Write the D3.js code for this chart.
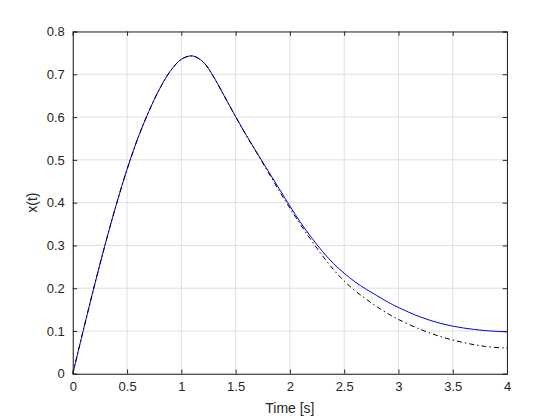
<!DOCTYPE html>
<html>
<head>
<meta charset="utf-8">
<script src="https://cdn.jsdelivr.net/npm/d3@7"></script>
<style>
  body { margin: 0; background: #fff; }
  svg { display: block; font-family: "Liberation Sans", Arial, sans-serif; }
</style>
</head>
<body>
<svg id="chart" width="560" height="420"></svg>
<script>
// values
const timeBlue = [0, 0.1, 0.2, 0.3, 0.4, 0.5, 0.6, 0.7, 0.8, 0.9, 1.0, 1.1, 1.2, 1.3, 1.4, 1.5,
  1.6, 1.7, 1.8, 1.9, 2.0, 2.1, 2.2, 2.3, 2.4, 2.5, 2.6, 2.7, 2.8, 2.9, 3.0, 3.2, 3.4, 3.6, 3.8, 4.0];
const xBlue = [0, 0.105, 0.207, 0.304, 0.395, 0.478, 0.551, 0.613, 0.666, 0.708, 0.735, 0.743, 0.729, 0.693, 0.647, 0.601,
  0.557, 0.515, 0.474, 0.433, 0.392, 0.353, 0.318, 0.286, 0.258, 0.235, 0.215, 0.198, 0.183, 0.168, 0.155, 0.133, 0.117, 0.107, 0.101, 0.098];

const timeBlack = [0, 0.1, 0.2, 0.3, 0.4, 0.5, 0.6, 0.7, 0.8, 0.9, 1.0, 1.1, 1.2, 1.3, 1.4, 1.5,
  1.6, 1.7, 1.8, 1.9, 2.0, 2.1, 2.2, 2.3, 2.4, 2.5, 2.6, 2.7, 2.8, 2.9, 3.0, 3.2, 3.4, 3.6, 3.8, 4.0];
const xBlack = [0, 0.105, 0.207, 0.304, 0.395, 0.478, 0.551, 0.613, 0.666, 0.708, 0.735, 0.743, 0.729, 0.693, 0.647, 0.601,
  0.556, 0.514, 0.471, 0.428, 0.387, 0.348, 0.311, 0.276, 0.244, 0.217, 0.194, 0.175, 0.157, 0.141, 0.127, 0.104, 0.086, 0.073, 0.064, 0.060];

const xTicks = [0, 0.5, 1, 1.5, 2, 2.5, 3, 3.5, 4];
const yTicks = [0, 0.1, 0.2, 0.3, 0.4, 0.5, 0.6, 0.7, 0.8];

// MATLAB default axes box
const margin = { top: 31.5, right: 53, bottom: 46.2, left: 72.8 };
const width = 560 - margin.left - margin.right;
const height = 420 - margin.top - margin.bottom;

const svg = d3.select("#chart")
  .append("g")
  .attr("transform", `translate(${margin.left},${margin.top})`);

const xScale = d3.scaleLinear().domain([0, 4]).range([0, width]);
const yScale = d3.scaleLinear().domain([0, 0.8]).range([height, 0]);

// grid
svg.append("g")
  .selectAll("line.gx")
  .data(xTicks)
  .enter().append("line")
  .attr("x1", d => xScale(d)).attr("x2", d => xScale(d))
  .attr("y1", 0).attr("y2", height)
  .attr("stroke", "#dfdfdf").attr("stroke-width", 1);

svg.append("g")
  .selectAll("line.gy")
  .data(yTicks)
  .enter().append("line")
  .attr("x1", 0).attr("x2", width)
  .attr("y1", d => yScale(d)).attr("y2", d => yScale(d))
  .attr("stroke", "#dfdfdf").attr("stroke-width", 1);

// lines
const lineBlack = d3.line()
  .x((d, i) => xScale(timeBlack[i]))
  .y(d => yScale(d))
  .curve(d3.curveCatmullRom.alpha(0.5));

const lineBlue = d3.line()
  .x((d, i) => xScale(timeBlue[i]))
  .y(d => yScale(d))
  .curve(d3.curveCatmullRom.alpha(0.5));

svg.append("path")
  .datum(xBlue)
  .attr("fill", "none")
  .attr("stroke", "#0000f0")
  .attr("stroke-width", 1)
  .attr("d", lineBlue);

svg.append("path")
  .datum(xBlack)
  .attr("fill", "none")
  .attr("stroke", "#000")
  .attr("stroke-width", 1)
  .attr("stroke-dasharray", "5,3,1.5,3")
  .attr("d", lineBlack);

// axes with inward ticks
const axisColor = "#262626";
const tickLen = 4.3;

const xAxis = svg.append("g")
  .attr("transform", `translate(0,${height})`)
  .call(d3.axisBottom(xScale).tickValues(xTicks).tickSize(-tickLen).tickPadding(8).tickFormat(d3.format("")));
const yAxis = svg.append("g")
  .call(d3.axisLeft(yScale).tickValues(yTicks).tickSize(-tickLen).tickPadding(8).tickFormat(d3.format("")));
const xTop = svg.append("g")
  .call(d3.axisTop(xScale).tickValues(xTicks).tickSize(-tickLen).tickFormat(""));
const yRight = svg.append("g")
  .attr("transform", `translate(${width},0)`)
  .call(d3.axisRight(yScale).tickValues(yTicks).tickSize(-tickLen).tickFormat(""));

[xAxis, yAxis, xTop, yRight].forEach(a => {
  a.select(".domain").attr("stroke", axisColor).attr("stroke-width", 1);
  a.selectAll(".tick line").attr("stroke", axisColor);
  a.selectAll(".tick text")
    .attr("fill", axisColor)
    .style("font-size", "13px")
    .style("font-family", "'Liberation Sans', Arial, sans-serif");
});

// labels
svg.append("text")
  .attr("x", width / 2)
  .attr("y", height + 39)
  .attr("text-anchor", "middle")
  .attr("fill", axisColor)
  .style("font-size", "14px")
  .text("Time [s]");

svg.append("text")
  .attr("transform", "rotate(-90)")
  .attr("x", -height / 2)
  .attr("y", -36)
  .attr("text-anchor", "middle")
  .attr("fill", axisColor)
  .style("font-size", "14px")
  .text("x(t)");
</script>
</body>
</html>
